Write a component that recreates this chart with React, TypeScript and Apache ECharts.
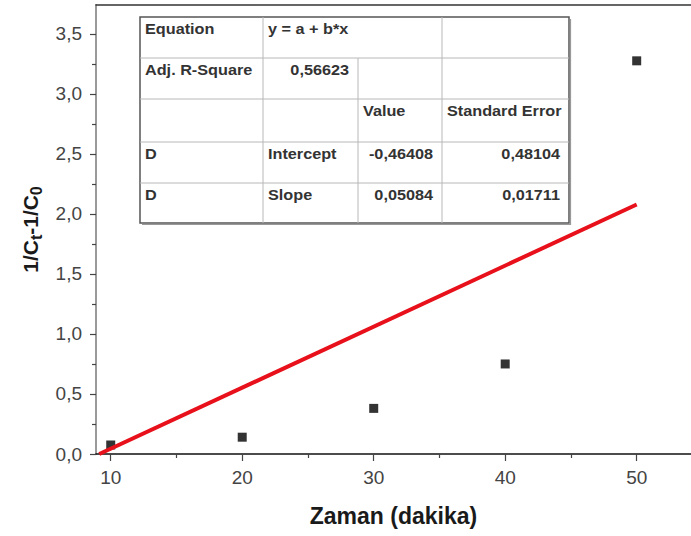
import React, { useEffect, useRef } from "react";
import * as echarts from "echarts";

// ---- data ----
const xValues = [10, 20, 30, 40, 50];
const yValues = [0.075, 0.14, 0.38, 0.75, 3.275];

const xTickLabels = [10, 20, 30, 40, 50];
const xMinorTicks = [15, 25, 35, 45];
const yTickLabels = [0, 0.5, 1, 1.5, 2, 2.5, 3, 3.5];
const yMinorTicks = [0.25, 0.75, 1.25, 1.75, 2.25, 2.75, 3.25];

const fitIntercept = -0.46408;
const fitSlope = 0.05084;
const fitXEnd = 50;

const xMin = 8.88;
const xMax = 54.13;
const yMin = 0;
const yMax = 3.74;

// table text: [row, col, text, align]
const tableTexts: [number, number, string, string][] = [
  [0, 0, "Equation", "left"],
  [0, 1, "y = a + b*x", "left"],
  [1, 0, "Adj. R-Square", "left"],
  [1, 1, "0,56623", "right"],
  [2, 2, "Value", "left"],
  [2, 3, "Standard Error", "left"],
  [3, 0, "D", "left"],
  [3, 1, "Intercept", "left"],
  [3, 2, "-0,46408", "right"],
  [3, 3, "0,48104", "right"],
  [4, 0, "D", "left"],
  [4, 1, "Slope", "left"],
  [4, 2, "0,05084", "right"],
  [4, 3, "0,01711", "right"],
];

const FONT = "'Liberation Sans', Arial, sans-serif";
const fmt = (v: number) => v.toFixed(1).replace(".", ",");

export default function App() {
  const ref = useRef<HTMLDivElement>(null);

  useEffect(() => {
    if (!ref.current) return;
    const chart = echarts.init(ref.current, undefined, { renderer: "svg" });

    const scatterData = xValues.map((x, i) => [x, yValues[i]]);
    const fitXStart = -fitIntercept / fitSlope;
    const fitData = [
      [fitXStart, fitIntercept + fitSlope * fitXStart],
      [fitXEnd, fitIntercept + fitSlope * fitXEnd],
    ];

    // table layout
    const colEdges = [140, 263, 358, 442, 569];
    const rowEdges = [17, 58, 99, 142, 183, 223];
    const lineColor = "#b8b8b8";
    const graphics: any[] = [];
    graphics.push({
      type: "rect",
      shape: { x: colEdges[0], y: rowEdges[0], width: colEdges[4] - colEdges[0], height: rowEdges[5] - rowEdges[0] },
      style: { fill: "#ffffff", stroke: "#555", lineWidth: 1.5 },
      z: 10,
    });
    graphics.push({
      type: "polyline",
      shape: { points: [[colEdges[4] + 1.5, rowEdges[0] + 2], [colEdges[4] + 1.5, rowEdges[5] + 1.5], [colEdges[0] + 2, rowEdges[5] + 1.5]] },
      style: { stroke: "#999", lineWidth: 1.2, fill: null },
      z: 10,
    });
    for (let r = 1; r < rowEdges.length - 1; r++) {
      graphics.push({
        type: "line",
        shape: { x1: colEdges[0], y1: rowEdges[r], x2: colEdges[4], y2: rowEdges[r] },
        style: { stroke: lineColor, lineWidth: 1 },
        z: 11,
      });
    }
    graphics.push({ type: "line", shape: { x1: colEdges[1], y1: rowEdges[0], x2: colEdges[1], y2: rowEdges[5] }, style: { stroke: lineColor, lineWidth: 1 }, z: 11 });
    graphics.push({ type: "line", shape: { x1: colEdges[2], y1: rowEdges[1], x2: colEdges[2], y2: rowEdges[5] }, style: { stroke: lineColor, lineWidth: 1 }, z: 11 });
    graphics.push({ type: "line", shape: { x1: colEdges[3], y1: rowEdges[0], x2: colEdges[3], y2: rowEdges[5] }, style: { stroke: lineColor, lineWidth: 1 }, z: 11 });

    tableTexts.forEach(([r, c, text, align]) => {
      const y = rowEdges[r] + 12;
      const x = align === "left" ? colEdges[c] + 5 : colEdges[c + 1] - 9;
      graphics.push({
        type: "text",
        x,
        y,
        scaleX: 1.12,
        style: {
          text,
          fontSize: 14.5,
          fontWeight: "bold",
          fontFamily: FONT,
          fill: "#333",
          align,
          verticalAlign: "middle",
        },
        z: 12,
      });
    });

    const option: any = {
      animation: false,
      backgroundColor: "#ffffff",
      grid: {
        left: 96,
        right: 0,
        top: 5,
        bottom: 82,
        containLabel: false,
        outerBoundsMode: "none",
      },
      xAxis: [
        {
          type: "value",
          min: xMin,
          max: xMax,
          position: "bottom",
          name: "Zaman (dakika)",
          nameLocation: "middle",
          nameGap: 50,
          nameTextStyle: { fontSize: 23, fontWeight: "bold", color: "#1a1a1a", fontFamily: FONT },
          axisLine: { show: true, lineStyle: { color: "#111", width: 1.5 } },
          axisTick: { show: true, length: 7, inside: false, customValues: xTickLabels, lineStyle: { color: "#444", width: 1.2 } },
          axisLabel: { show: true, margin: 14, customValues: xTickLabels, fontSize: 19, color: "#444", fontFamily: FONT, formatter: (v: number) => String(v) },
          splitLine: { show: false },
        },
        {
          type: "value",
          min: xMin,
          max: xMax,
          position: "bottom",
          axisLine: { show: false },
          axisTick: { show: true, length: 4, customValues: xMinorTicks, lineStyle: { color: "#444", width: 1.2 } },
          axisLabel: { show: false },
          splitLine: { show: false },
        },
        {
          type: "value",
          min: xMin,
          max: xMax,
          position: "top",
          axisLine: { show: true, lineStyle: { color: "#333", width: 1.5 } },
          axisTick: { show: false },
          axisLabel: { show: false },
          splitLine: { show: false },
        },
      ],
      yAxis: [
        {
          type: "value",
          min: yMin,
          max: yMax,
          position: "left",
          name: "{m|1/C}{s|t}{m|-1/C}{s|0}",
          nameLocation: "middle",
          nameGap: 50,
          nameTextStyle: {
            fontSize: 21,
            fontWeight: "bold",
            color: "#1a1a1a",
            fontFamily: FONT,
            rich: {
              m: { fontSize: 21, fontWeight: "bold", color: "#1a1a1a", fontFamily: FONT },
              s: { fontSize: 16, fontWeight: "bold", color: "#1a1a1a", fontFamily: FONT, padding: [13, 0, 0, 0] },
            },
          },
          axisLine: { show: true, lineStyle: { color: "#9a9a9a", width: 2 } },
          axisTick: { show: true, length: 6, customValues: yTickLabels, lineStyle: { color: "#444", width: 1.2 } },
          axisLabel: { show: true, margin: 14, customValues: yTickLabels, fontSize: 19, color: "#444", fontFamily: FONT, formatter: (v: number) => fmt(v) },
          splitLine: { show: false },
        },
        {
          type: "value",
          min: yMin,
          max: yMax,
          position: "left",
          axisLine: { show: false },
          axisTick: { show: true, length: 4, customValues: yMinorTicks, lineStyle: { color: "#444", width: 1.2 } },
          axisLabel: { show: false },
          splitLine: { show: false },
        },
      ],
      series: [
        {
          type: "scatter",
          xAxisIndex: 0,
          yAxisIndex: 0,
          data: scatterData,
          symbol: "rect",
          symbolSize: 9,
          itemStyle: { color: "#000" },
          z: 3,
        },
        {
          type: "line",
          xAxisIndex: 0,
          yAxisIndex: 0,
          data: fitData,
          showSymbol: false,
          symbol: "none",
          lineStyle: { color: "#e8101a", width: 4 },
          z: 4,
        },
      ],
      graphic: graphics,
    };

    chart.setOption(option);
    return () => chart.dispose();
  }, []);

  return (
    <div
      ref={ref}
      style={{ position: "fixed", left: 0, top: 0, width: 691, height: 536, background: "#fff" }}
    />
  );
}
